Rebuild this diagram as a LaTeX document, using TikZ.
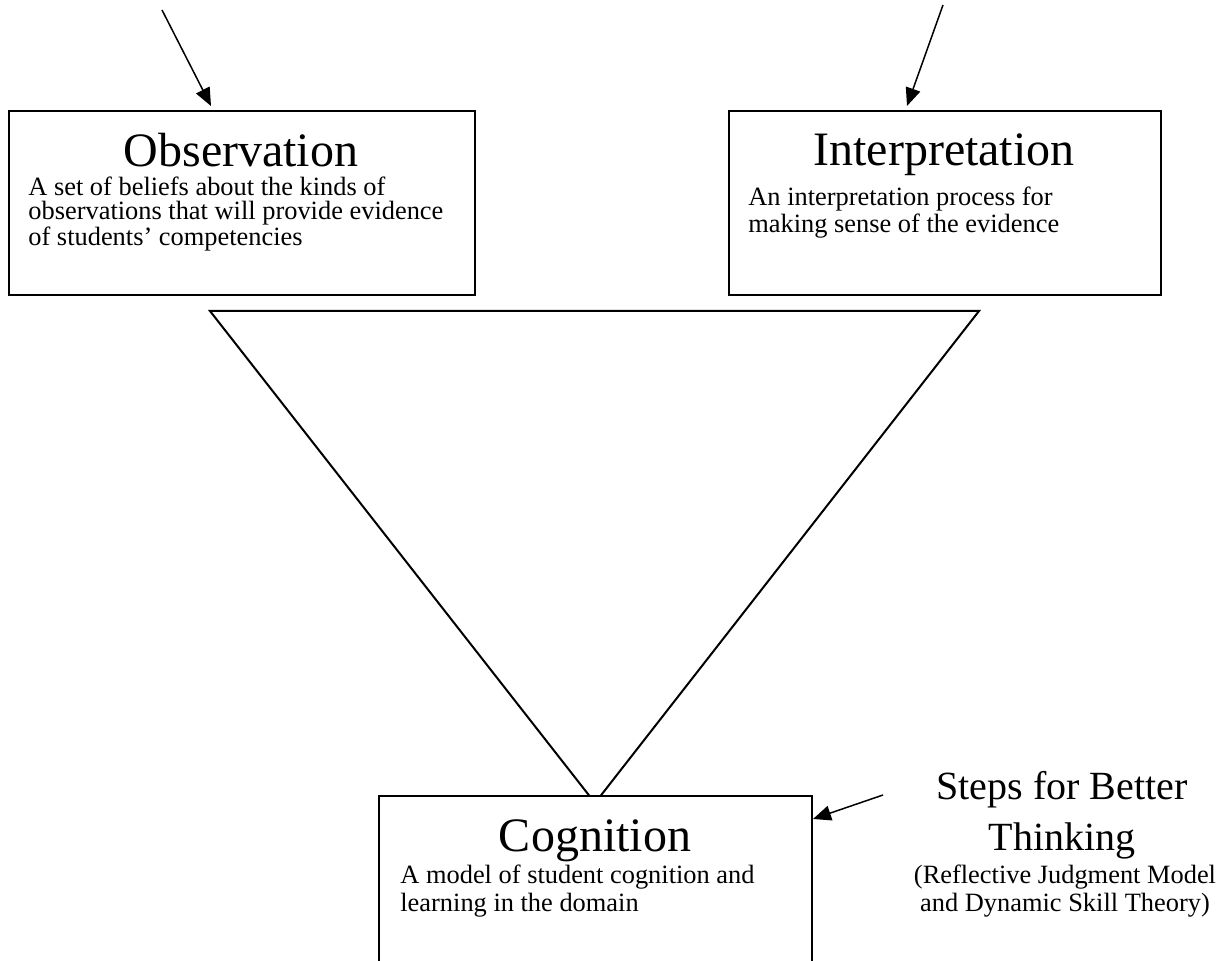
\documentclass[tikz,border=0pt]{standalone}
\usepackage{fontspec}
\setmainfont{Liberation Serif}
\usetikzlibrary{calc,positioning,arrows.meta}

\begin{document}
\begin{tikzpicture}[x=0.5pt,y=-0.5pt,
    box/.style={draw, line width=1pt, fill=white, inner sep=0pt, anchor=north west},
    head/.style={font=\fontsize{24}{28}\selectfont, inner sep=0pt, anchor=base},
    body/.style={font=\fontsize{13.2}{12}\selectfont, align=left, inner sep=0pt, anchor=base west},
    pointer/.style={-{Triangle[length=9pt,width=7.5pt]}, line width=0.75pt}]
%Assessment triangle
  \clip (0,0) rectangle (1221,961);
  \coordinate (triL) at (210,311);
  \coordinate (triR) at (979,311);
  \coordinate (triB) at (595,803);
  \draw[line width=1pt] (triL) -- (triR) -- (triB) -- cycle;
  \node[box, minimum width=233pt, minimum height=92pt] (obs) at (8,110) {};
  \node[box, minimum width=216pt, minimum height=92pt] (int) at (728,110) {};
  \node[box, minimum width=216.5pt, minimum height=95pt] (cog) at (378,795) {};
  % texts, placed at the baseline of their last line
  \node[head] (obsHead) at (241,167) {Observation};
  \node[body] (obsBody) at (28,246) {A set of beliefs about the kinds of\\observations that will provide evidence\\of students' competencies};
  \node[head] (intHead) at (944,166) {Interpretation};
  \node[body, font=\fontsize{13.2}{13.5}\selectfont] (intBody) at (748,233) {An interpretation process for\\making sense of the evidence};
  \node[head] (cogHead) at (595,852) {Cognition};
  \node[body, font=\fontsize{13.2}{14}\selectfont] (cogBody) at (400,912) {A model of student cognition and\\learning in the domain};
  \node[head, font=\fontsize{20}{25}\selectfont, align=center] (stepsHead) at (1062,850) {Steps for Better\\Thinking};
  \node[body, font=\fontsize{13.2}{14}\selectfont, align=center, anchor=base] (stepsBody) at (1065,912) {(Reflective Judgment Model\\and Dynamic Skill Theory)};
%arrows
  \coordinate (obsFrom) at (162,10);
  \coordinate (intFrom) at (943,5);
  \coordinate (stepsFrom) at (883,795);
  \draw[pointer] (obsFrom) -- ($(obs.north west)+(203,-4)$);
  \draw[pointer] (intFrom) -- ($(int.north west)+(179,-4)$);
  \draw[pointer] (stepsFrom) -- ($(cog.north east)+(0,24)$);
\end{tikzpicture}
\end{document}
